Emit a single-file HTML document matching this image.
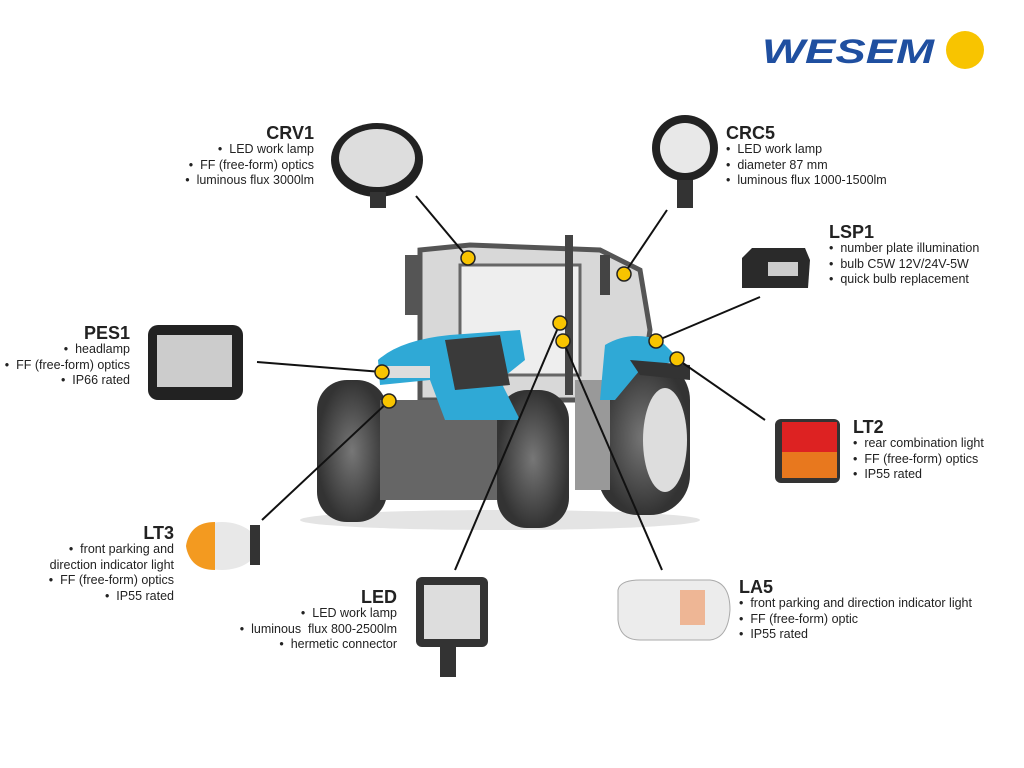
<!DOCTYPE html>
<html><head><meta charset="utf-8"><style>
body{margin:0;width:1024px;height:768px;background:#fff;position:relative;overflow:hidden;font-family:"Liberation Sans",sans-serif;color:#222}
.t{position:absolute;font-size:12.5px;line-height:15.7px}
.t b{display:block;font-size:18px;line-height:22px;margin-bottom:-2px;color:#222;font-weight:bold}
.r{text-align:right}
</style></head><body>
<svg width="1024" height="768" style="position:absolute;left:0;top:0">
<defs>
<radialGradient id="tire" cx="50%" cy="50%" r="50%"><stop offset="0" stop-color="#777"/><stop offset="1" stop-color="#333"/></radialGradient>
</defs>
<!-- logo -->
<text x="762" y="63" font-family="Liberation Sans" font-weight="bold" font-style="italic" font-size="34" fill="#1f4fa0" textLength="172" lengthAdjust="spacingAndGlyphs">WESEM</text>
<circle cx="965" cy="50" r="19" fill="#f8c400"/>
<!-- tractor -->
<ellipse cx="500" cy="520" rx="200" ry="10" fill="#e4e4e4"/>
<path d="M420 250 L470 245 L600 250 L640 270 L650 330 L640 400 L420 400 Z" fill="#d8d8d8" stroke="#555" stroke-width="5"/>
<rect x="460" y="265" width="120" height="110" fill="#eee" stroke="#666" stroke-width="3"/>
<rect x="565" y="235" width="8" height="160" fill="#444"/>
<rect x="405" y="255" width="15" height="60" fill="#555"/>
<rect x="600" y="255" width="10" height="40" fill="#444"/>
<rect x="317" y="380" width="70" height="142" rx="30" fill="url(#tire)"/>
<rect x="598" y="360" width="92" height="155" rx="40" fill="url(#tire)"/>
<ellipse cx="665" cy="440" rx="22" ry="52" fill="#ddd"/>
<rect x="380" y="400" width="170" height="100" fill="#666"/>
<rect x="575" y="380" width="35" height="110" fill="#999"/>
<rect x="497" y="390" width="72" height="138" rx="30" fill="url(#tire)"/>
<path d="M378 360 Q400 340 450 335 L520 330 L525 360 L500 380 L520 420 L445 420 L430 380 L380 385 Z" fill="#2fa9d6"/>
<path d="M445 340 L500 335 L510 385 L455 390 Z" fill="#3a3a3a"/>
<rect x="385" y="366" width="45" height="12" fill="#ddd"/>
<path d="M605 345 Q630 330 660 340 L680 360 L640 370 L615 400 L600 400 Z" fill="#2fa9d6"/>
<path d="M630 360 L690 365 L690 380 L640 375 Z" fill="#333"/>
<!-- lines -->
<g stroke="#111" stroke-width="2">
<line x1="468" y1="258" x2="416" y2="196"/>
<line x1="624" y1="274" x2="667" y2="210"/>
<line x1="656" y1="341" x2="760" y2="297"/>
<line x1="677" y1="359" x2="765" y2="420"/>
<line x1="382" y1="372" x2="257" y2="362"/>
<line x1="389" y1="401" x2="262" y2="520"/>
<line x1="560" y1="323" x2="455" y2="570"/>
<line x1="563" y1="341" x2="662" y2="570"/>
</g>
<g fill="#f8c400" stroke="#222" stroke-width="1.5">
<circle cx="468" cy="258" r="7"/><circle cx="624" cy="274" r="7"/><circle cx="560" cy="323" r="7"/><circle cx="563" cy="341" r="7"/>
<circle cx="656" cy="341" r="7"/><circle cx="677" cy="359" r="7"/><circle cx="382" cy="372" r="7"/><circle cx="389" cy="401" r="7"/>
</g>
<!-- lamps -->
<ellipse cx="377" cy="160" rx="46" ry="37" fill="#222"/><ellipse cx="377" cy="158" rx="38" ry="29" fill="#ddd"/><rect x="370" y="192" width="16" height="16" fill="#333"/>
<circle cx="685" cy="148" r="33" fill="#222"/><circle cx="685" cy="148" r="25" fill="#e8e8e8"/><rect x="677" y="180" width="16" height="28" fill="#333"/>
<path d="M742 258 L752 248 L805 248 L810 260 L808 288 L742 288 Z" fill="#2a2a2a"/><rect x="768" y="262" width="30" height="14" fill="#ccc"/>
<rect x="148" y="325" width="95" height="75" rx="10" fill="#222"/><rect x="157" y="335" width="75" height="52" fill="#ccc"/>
<rect x="775" y="419" width="65" height="64" rx="6" fill="#333"/><rect x="782" y="422" width="55" height="30" fill="#d22"/><rect x="782" y="452" width="55" height="26" fill="#e8781e"/>
<ellipse cx="222" cy="546" rx="36" ry="24" fill="#e8e8e8"/><path d="M186 546 Q190 522 215 522 L215 570 Q190 570 186 546Z" fill="#f39a20"/><rect x="250" y="525" width="10" height="40" fill="#333"/>
<rect x="416" y="577" width="72" height="70" rx="6" fill="#333"/><rect x="424" y="585" width="56" height="54" fill="#ddd"/><rect x="440" y="647" width="16" height="30" fill="#333"/>
<path d="M618 590 Q620 580 640 580 L710 580 Q730 582 730 610 Q728 638 710 640 L640 640 Q620 640 618 620 Z" fill="#ececec" stroke="#aaa"/><rect x="680" y="590" width="25" height="35" fill="#f0a070" opacity=".7"/>
</svg>
<div class="t r" style="right:710px;top:122px"><b>CRV1</b>•&nbsp; LED work lamp<br>•&nbsp; FF (free-form) optics<br>•&nbsp; luminous flux 3000lm</div>
<div class="t" style="left:726px;top:122px"><b>CRC5</b>•&nbsp; LED work lamp<br>•&nbsp; diameter 87 mm<br>•&nbsp; luminous flux 1000-1500lm</div>
<div class="t" style="left:829px;top:221px"><b>LSP1</b>•&nbsp; number plate illumination<br>•&nbsp; bulb C5W 12V/24V-5W<br>•&nbsp; quick bulb replacement</div>
<div class="t r" style="right:894px;top:322px"><b>PES1</b>•&nbsp; headlamp<br>•&nbsp; FF (free-form) optics<br>•&nbsp; IP66 rated</div>
<div class="t" style="left:853px;top:416px"><b>LT2</b>•&nbsp; rear combination light<br>•&nbsp; FF (free-form) optics<br>•&nbsp; IP55 rated</div>
<div class="t r" style="right:850px;top:522px"><b>LT3</b>•&nbsp; front parking and<br>direction indicator light<br>•&nbsp; FF (free-form) optics<br>•&nbsp; IP55 rated</div>
<div class="t r" style="right:627px;top:586px"><b>LED</b>•&nbsp; LED work lamp<br>•&nbsp; luminous&nbsp; flux 800-2500lm<br>•&nbsp; hermetic connector</div>
<div class="t" style="left:739px;top:576px"><b>LA5</b>•&nbsp; front parking and direction indicator light<br>•&nbsp; FF (free-form) optic<br>•&nbsp; IP55 rated</div>
</body></html>
